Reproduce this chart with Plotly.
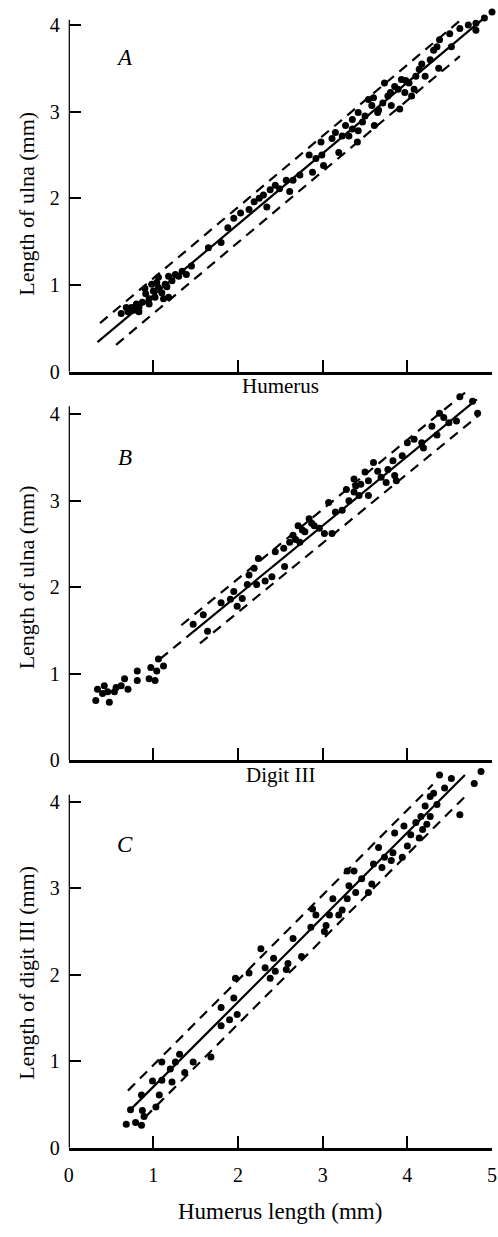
import plotly.graph_objects as go

# ---------------- Data ----------------
# Panel A: length of ulna vs humerus length
a_x = [0.62, 0.70, 0.77, 0.83, 0.74, 0.87, 0.95, 0.91, 1.00, 1.06, 1.02, 1.10, 1.14, 1.06, 1.18,
       1.22, 1.26, 1.34, 1.39, 1.45, 0.98, 1.12, 1.18, 0.83, 0.95, 1.65, 1.80, 1.88, 1.95, 2.03,
       2.13, 2.34, 2.30, 2.38, 2.44, 2.49, 2.61, 2.57, 2.73, 2.88, 2.92, 2.98, 3.01, 2.99, 3.11,
       3.15, 3.19, 3.27, 3.31, 3.35, 3.41, 3.42, 3.50, 3.58, 3.60, 3.61, 3.65, 3.71, 3.77, 3.81,
       3.85, 3.91, 3.93, 3.97, 4.02, 4.08, 4.10, 4.14, 4.21, 4.27, 4.31, 4.35, 4.37, 4.38, 4.52,
       4.50, 4.62, 4.72, 4.81, 4.81, 4.91, 5.00, 3.42, 3.73, 4.05, 3.89, 3.54, 3.35, 3.23, 2.84,
       2.65, 2.19, 2.25, 0.68, 0.80, 0.90, 1.04, 1.16, 1.30, 3.47, 3.66, 3.80, 3.98, 4.17]
a_y = [0.67, 0.69, 0.71, 0.74, 0.74, 0.80, 0.84, 0.90, 0.93, 0.97, 0.86, 0.91, 1.01, 1.09, 1.10,
       1.05, 1.12, 1.16, 1.12, 1.22, 1.01, 0.84, 0.86, 0.69, 0.78, 1.43, 1.49, 1.66, 1.77, 1.83,
       1.87, 1.90, 2.04, 2.10, 2.15, 2.11, 2.08, 2.21, 2.27, 2.30, 2.46, 2.65, 2.38, 2.50, 2.69,
       2.76, 2.53, 2.84, 2.72, 2.91, 2.65, 2.78, 2.95, 3.07, 3.16, 2.84, 2.99, 3.10, 3.18, 3.07,
       3.29, 3.03, 3.37, 3.22, 3.33, 3.26, 3.41, 3.49, 3.41, 3.60, 3.71, 3.75, 3.50, 3.83, 3.75,
       3.90, 3.96, 4.00, 3.94, 4.02, 4.08, 4.15, 2.99, 3.33, 3.18, 3.26, 3.14, 2.80, 2.72, 2.50,
       2.21, 1.96, 2.00, 0.74, 0.78, 0.96, 1.03, 0.98, 1.10, 2.88, 3.02, 3.22, 3.36, 3.55]
a_fit_x = [0.34, 4.93]
a_fit_y = [0.34, 4.10]
a_upper_x = [0.37, 4.62]
a_upper_y = [0.56, 4.05]
a_lower_x = [0.56, 4.62]
a_lower_y = [0.31, 3.64]

# Panel B: length of ulna vs digit III length
b_x = [0.32, 0.34, 0.42, 0.48, 0.46, 0.56, 0.54, 0.66, 0.70, 0.62, 0.81, 0.81, 0.95, 1.02, 0.97,
       1.04, 1.12, 1.06, 0.40,
       1.47, 1.59, 1.64, 1.80, 1.91, 1.95, 1.99, 2.05, 2.11, 2.13, 2.19, 2.24, 2.22, 2.32, 2.40,
       2.44, 2.55, 2.54, 2.61, 2.65, 2.71, 2.73, 2.79, 2.84, 2.90, 2.96, 3.02, 3.11, 3.07, 3.15,
       3.23, 3.31, 3.37, 3.39, 3.45, 3.43, 3.50, 3.54, 3.60, 3.65, 3.69, 3.75, 3.77, 3.83, 3.85,
       3.87, 3.94, 4.00, 4.08, 4.17, 4.19, 4.29, 4.35, 4.38, 4.43, 4.49, 4.58, 4.62, 4.77, 4.83,
       3.37, 3.54, 2.68, 2.76, 2.87, 3.28]
b_y = [0.69, 0.82, 0.86, 0.67, 0.79, 0.84, 0.79, 0.94, 0.82, 0.86, 1.03, 0.92, 0.94, 0.92, 1.07,
       1.03, 1.09, 1.17, 0.77,
       1.57, 1.68, 1.49, 1.82, 1.86, 1.95, 1.78, 1.87, 2.03, 2.14, 2.22, 2.33, 2.03, 2.07, 2.12,
       2.41, 2.24, 2.45, 2.52, 2.60, 2.71, 2.52, 2.64, 2.79, 2.71, 2.68, 2.62, 2.62, 2.98, 2.87,
       2.89, 3.00, 3.10, 3.17, 3.19, 3.06, 3.33, 3.06, 3.44, 3.34, 3.27, 3.21, 3.36, 3.46, 3.29,
       3.23, 3.52, 3.67, 3.71, 3.67, 3.61, 3.86, 3.76, 4.01, 3.96, 3.90, 3.92, 4.20, 4.15, 4.01,
       3.25, 3.23, 2.55, 2.66, 2.74, 3.13]
b_fit_x = [1.39, 4.82]
b_fit_y = [1.42, 4.17]
b_ext_x = [1.08, 1.39]
b_ext_y = [1.17, 1.42]
b_upper_x = [1.33, 4.72]
b_upper_y = [1.56, 4.28]
b_lower_x = [1.55, 4.85]
b_lower_y = [1.35, 3.99]

# Panel C: length of digit III vs humerus length
c_x = [0.68, 0.79, 0.86, 0.73, 0.87, 0.89, 0.86, 0.99, 1.07, 1.03, 1.10, 1.10, 1.22, 1.20, 1.26,
       1.31, 1.37, 1.47, 1.68, 1.80, 1.90, 1.80, 1.95, 1.99, 1.97, 2.13, 2.27, 2.32, 2.38, 2.42,
       2.44, 2.57, 2.59, 2.65, 2.75, 2.86, 2.88, 2.92, 3.02, 3.04, 3.08, 3.12, 3.19, 3.23, 3.29,
       3.29, 3.37, 3.31, 3.39, 3.46, 3.54, 3.58, 3.60, 3.66, 3.70, 3.73, 3.81, 3.83, 3.85, 3.94,
       3.96, 4.00, 4.04, 4.10, 4.14, 4.16, 4.21, 4.23, 4.27, 4.31, 4.35, 4.38, 4.44, 4.52, 4.62,
       4.79, 4.87, 4.27, 4.18]
c_y = [0.27, 0.29, 0.26, 0.44, 0.43, 0.36, 0.61, 0.77, 0.61, 0.47, 0.78, 0.99, 0.76, 0.91, 0.99,
       1.08, 0.87, 0.99, 1.05, 1.41, 1.48, 1.62, 1.73, 1.54, 1.96, 2.02, 2.30, 2.08, 1.96, 2.19,
       2.04, 2.06, 2.13, 2.42, 2.21, 2.55, 2.76, 2.69, 2.50, 2.57, 2.69, 2.88, 2.69, 2.75, 2.88,
       3.20, 3.20, 3.03, 2.95, 3.11, 2.95, 3.05, 3.28, 3.47, 3.24, 3.36, 3.32, 3.41, 3.64, 3.36,
       3.72, 3.49, 3.62, 3.76, 3.58, 3.83, 3.95, 3.74, 3.83, 4.10, 3.97, 4.31, 4.16, 4.27, 3.85,
       4.21, 4.35, 4.06, 3.68]
c_fit_x = [0.73, 4.68]
c_fit_y = [0.44, 4.31]
c_upper_x = [0.70, 4.30]
c_upper_y = [0.66, 4.20]
c_lower_x = [0.90, 4.70]
c_lower_y = [0.35, 4.08]

x_ticks = [0, 1, 2, 3, 4, 5]
y_ticks = [0, 1, 2, 3, 4]

# ---------------- Layout geometry ----------------
W, H = 498, 1237
FONT = "Liberation Serif"
BLACK = "#000000"


def fy(py):
    return 1 - py / H


# bottom: pixel row of y=0; axis_top: pixel row where the drawn y-axis line ends
# (value y_line_top); the plotting range extends to y_range_top so points above show.
panels = [
    dict(x=a_x, y=a_y, fit=(a_fit_x, a_fit_y), ext=None,
         up=(a_upper_x, a_upper_y), lo=(a_lower_x, a_lower_y),
         bottom=375, axis_top=20, y_line_top=4.06, y_range_top=4.25, letter="A", letter_py=58,
         xtitle="Humerus", xtitle_py=389, xtitle_size=21,
         ytitle="Length of ulna (mm)", ytitle_py=206),
    dict(x=b_x, y=b_y, fit=(b_fit_x, b_fit_y), ext=(b_ext_x, b_ext_y),
         up=(b_upper_x, b_upper_y), lo=(b_lower_x, b_lower_y),
         bottom=767, axis_top=410, y_line_top=4.09, y_range_top=4.3, letter="B", letter_py=462,
         xtitle="Digit III", xtitle_py=782, xtitle_size=21,
         ytitle="Length of ulna (mm)", ytitle_py=583),
    dict(x=c_x, y=c_y, fit=(c_fit_x, c_fit_y), ext=None,
         up=(c_upper_x, c_upper_y), lo=(c_lower_x, c_lower_y),
         bottom=1158, axis_top=802, y_line_top=4.08, y_range_top=4.45, letter="C", letter_py=852,
         xtitle="Humerus length (mm)", xtitle_py=1222, xtitle_size=23,
         ytitle="Length of digit III (mm)", ytitle_py=982),
]

fig = go.Figure()
annotations = []
shapes = []
x_dom = [65 / W, 497 / W]
dash = "10px,7px"

for i, p in enumerate(panels, start=1):
    xa = "x" if i == 1 else f"x{i}"
    ya = "y" if i == 1 else f"y{i}"
    common = dict(xaxis=xa, yaxis=ya, showlegend=False, hoverinfo="skip")
    fig.add_trace(go.Scatter(x=p["fit"][0], y=p["fit"][1], mode="lines",
                             line=dict(color=BLACK, width=2.2), cliponaxis=False, **common))
    if p["ext"] is not None:
        fig.add_trace(go.Scatter(x=p["ext"][0], y=p["ext"][1], mode="lines",
                                 line=dict(color=BLACK, width=2.2, dash=dash), cliponaxis=False, **common))
    for band in (p["up"], p["lo"]):
        fig.add_trace(go.Scatter(x=band[0], y=band[1], mode="lines",
                                 line=dict(color=BLACK, width=2.2, dash=dash), cliponaxis=False, **common))
    fig.add_trace(go.Scatter(x=p["x"], y=p["y"], mode="markers",
                             marker=dict(color=BLACK, size=7, line=dict(width=0)),
                             cliponaxis=False, **common))

    unit = (p["bottom"] - p["axis_top"]) / p["y_line_top"]
    dom_top_px = p["bottom"] - unit * p["y_range_top"]

    axis_common = dict(showgrid=False, zeroline=False, linecolor=BLACK,
                       linewidth=2.5, ticks="inside", ticklen=12, tickwidth=2, tickcolor=BLACK,
                       tickfont=dict(family=FONT, size=20, color=BLACK), fixedrange=True,
                       ticklabeloverflow="allow")
    xkey = "xaxis" if i == 1 else f"xaxis{i}"
    ykey = "yaxis" if i == 1 else f"yaxis{i}"
    fig.update_layout({
        xkey: dict(domain=x_dom, range=[0, 5], anchor=ya, tickvals=x_ticks, showline=True,
                   showticklabels=(i == 3), ticklabelstandoff=8, **axis_common),
        ykey: dict(domain=[fy(p["bottom"]), fy(dom_top_px)], range=[0, p["y_range_top"]], anchor=xa,
                   tickvals=y_ticks, showline=False, ticklabelstandoff=8, **axis_common),
    })
    # vertical axis line, ending where the printed axis ends
    shapes.append(dict(type="line", xref=xa, yref=ya, x0=0, x1=0, y0=0, y1=p["y_line_top"],
                       line=dict(color=BLACK, width=2.5), layer="above"))

    annotations.append(dict(text=f"<i>{p['letter']}</i>", x=122 / W, y=fy(p["letter_py"]),
                            xref="paper", yref="paper", showarrow=False,
                            xanchor="center", yanchor="middle",
                            font=dict(family=FONT, size=23, color=BLACK)))
    annotations.append(dict(text=p["xtitle"], x=(65 + 497) / 2 / W, y=fy(p["xtitle_py"]),
                            xref="paper", yref="paper", showarrow=False,
                            xanchor="center", yanchor="middle",
                            font=dict(family=FONT, size=p["xtitle_size"], color=BLACK)))
    annotations.append(dict(text=p["ytitle"], x=22 / W, y=fy(p["ytitle_py"]),
                            xref="paper", yref="paper", showarrow=False, textangle=-90,
                            xanchor="center", yanchor="middle",
                            font=dict(family=FONT, size=22, color=BLACK)))

fig.update_layout(width=W, height=H, margin=dict(l=0, r=0, t=0, b=0, pad=0),
                  paper_bgcolor="white", plot_bgcolor="white", annotations=annotations,
                  shapes=shapes, font=dict(family=FONT, color=BLACK))

fig.write_html("out.html", config={"displayModeBar": False})
